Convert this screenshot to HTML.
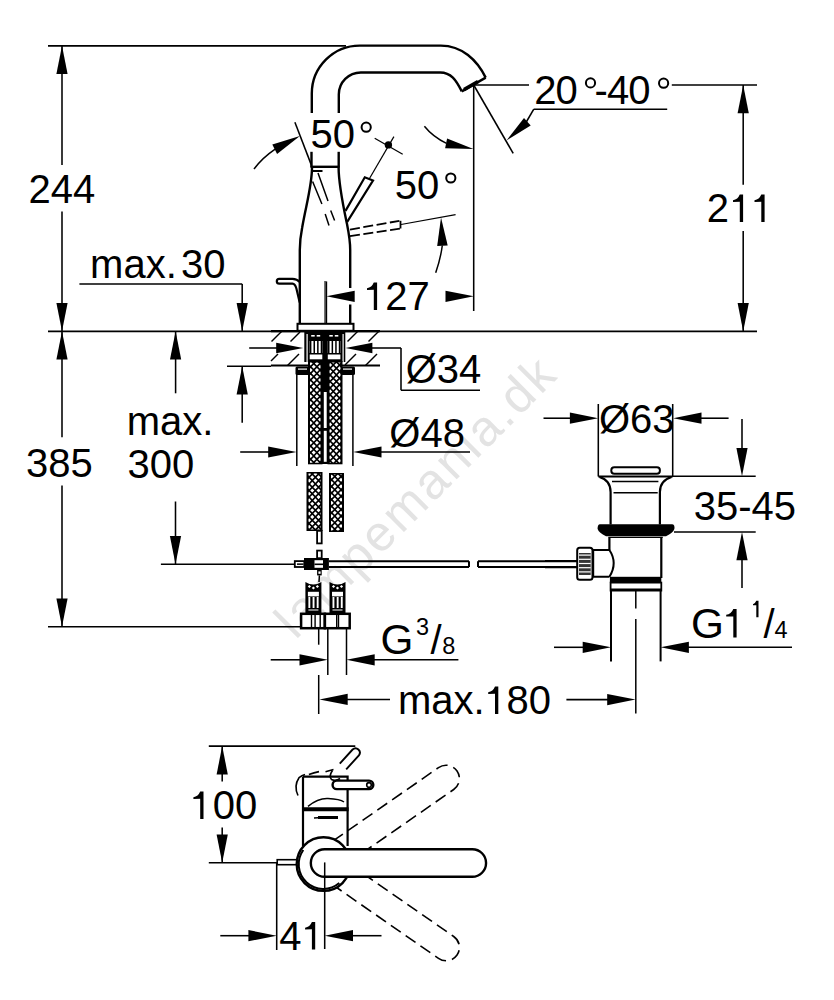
<!DOCTYPE html>
<html><head><meta charset="utf-8"><style>
html,body{margin:0;padding:0;background:#fff;}
svg{display:block;}
text{font-family:"Liberation Sans",sans-serif;fill:#000;stroke:none;}
</style></head><body>
<svg width="834" height="1000" viewBox="0 0 834 1000" stroke="#000" stroke-linecap="butt">
<rect width="834" height="1000" fill="#fff" stroke="none"/>
<text x="0" y="0" font-size="50" letter-spacing="2.7" style="fill:#e3e3e3" stroke="none" transform="translate(295.6,640.4) rotate(-45)">lampemania.dk</text>
<line x1="48.0" y1="45.8" x2="346.0" y2="45.8" stroke-width="1.7" />
<line x1="48.0" y1="331.4" x2="757.0" y2="331.4" stroke-width="1.6" />
<line x1="62.0" y1="45.8" x2="62.0" y2="165.0" stroke-width="1.55" />
<line x1="62.0" y1="211.5" x2="62.0" y2="331.3" stroke-width="1.55" />
<polygon points="62.0,45.8 67.6,74.1 56.4,74.1" fill="#000" stroke="none"/>
<polygon points="62.0,331.3 56.4,303.0 67.6,303.0" fill="#000" stroke="none"/>
<text x="28.6" y="203.0" font-size="40" >244</text>
<text x="90.1" y="278.0" font-size="40" >max.</text>
<text x="181.1" y="278.0" font-size="40" >30</text>
<line x1="79.4" y1="284.0" x2="242.2" y2="284.0" stroke-width="1.55" />
<line x1="242.2" y1="284.0" x2="242.2" y2="331.0" stroke-width="1.55" />
<polygon points="242.2,331.3 236.6,303.0 247.8,303.0" fill="#000" stroke="none"/>
<line x1="242.2" y1="366.2" x2="242.2" y2="422.7" stroke-width="1.55" />
<polygon points="242.2,366.2 247.8,394.5 236.6,394.5" fill="#000" stroke="none"/>
<line x1="473.7" y1="85.0" x2="529.0" y2="85.0" stroke-width="1.55" />
<line x1="671.8" y1="85.0" x2="757.0" y2="85.0" stroke-width="1.55" />
<line x1="743.2" y1="85.0" x2="743.2" y2="184.8" stroke-width="1.55" />
<line x1="743.2" y1="231.0" x2="743.2" y2="331.3" stroke-width="1.55" />
<polygon points="743.2,85.0 748.8,113.3 737.6,113.3" fill="#000" stroke="none"/>
<polygon points="743.2,331.4 737.6,303.1 748.8,303.1" fill="#000" stroke="none"/>
<text x="706.8" y="222.0" font-size="40" >2</text>
<path d="M739.80,194.60 L743.10,194.60 L743.10,222.00 L739.80,222.00 L739.80,201.80 Q737.30,201.80 733.00,202.00 L733.00,200.20 Q737.80,199.60 739.80,194.60 Z" fill="#000" stroke="none"/>
<path d="M761.30,194.60 L764.60,194.60 L764.60,222.00 L761.30,222.00 L761.30,201.80 Q758.80,201.80 754.50,202.00 L754.50,200.20 Q759.30,199.60 761.30,194.60 Z" fill="#000" stroke="none"/>
<text x="534.2" y="104.0" font-size="40" letter-spacing="-1">20</text>
<circle cx="590.5" cy="82.9" r="4.6" stroke-width="2.0" fill="none"/>
<text x="594.6" y="104.0" font-size="40" letter-spacing="-1">-40</text>
<circle cx="663.6" cy="83.2" r="4.6" stroke-width="2.0" fill="none"/>
<line x1="533.8" y1="109.2" x2="667.2" y2="109.2" stroke-width="1.55" />
<line x1="533.8" y1="109.2" x2="526.0" y2="122.5" stroke-width="1.55" />
<polygon points="506.5,140.4 524.0,118.0 530.7,125.4" fill="#000" stroke="none"/>
<line x1="473.7" y1="85.0" x2="513.2" y2="153.4" stroke-width="1.55" />
<line x1="473.7" y1="85.0" x2="473.7" y2="311.0" stroke-width="1.55" />
<path d="M424.4,126.3 Q433,137 446.5,143.4" stroke-width="1.5" fill="none" />
<polygon points="473.5,148.9 445.1,148.2 447.1,138.4" fill="#000" stroke="none"/>
<line x1="326.4" y1="281.4" x2="326.4" y2="323.0" stroke-width="1.55" />
<polygon points="326.4,296.3 354.7,290.7 354.7,301.9" fill="#000" stroke="none"/>
<polygon points="473.8,296.3 445.5,301.9 445.5,290.7" fill="#000" stroke="none"/>
<path d="M373.80,282.60 L377.10,282.60 L377.10,310.00 L373.80,310.00 L373.80,289.80 Q371.30,289.80 367.00,290.00 L367.00,288.20 Q371.80,287.60 373.80,282.60 Z" fill="#000" stroke="none"/>
<text x="385.3" y="310.0" font-size="40" >27</text>
<path d="M311.8,113 L311.8,93.5 A48,48 0 0 1 359.7,45.6 L440.8,45.6 C462,45.6 477,60 485.7,77.6" stroke-width="2.4" fill="none" />
<path d="M338.8,113 L338.8,94.5 A22,22 0 0 1 360.8,72.5 L440.2,72.5 C451,72.5 456,80 461.8,91.4" stroke-width="2.4" fill="none" />
<path d="M461.8,91.4 L485.7,77.6" stroke-width="2.4" fill="none" />
<path d="M464,89.6 L478,81.5" stroke-width="3.6" fill="none" />
<line x1="311.5" y1="151.8" x2="311.5" y2="167.0" stroke-width="2.4" />
<line x1="338.7" y1="151.8" x2="338.7" y2="167.0" stroke-width="2.4" />
<line x1="310.5" y1="166.8" x2="339.5" y2="166.8" stroke-width="2.4" />
<path d="M312,167 C312.2,185 306,205 302.1,228 C300.5,236 299.8,242 299.8,250 L299.8,323.8" stroke-width="2.4" fill="none" />
<path d="M338.6,167 C338.6,185 343,205 347,224 C349,234 350.2,242 350.2,250 L350.2,288 M350.2,304.5 L350.2,323.8" stroke-width="2.4" fill="none" />
<path d="M299.8,282 Q297,278.8 292.5,278.8 L279.2,278.8 A2.4,2.4 0 0 0 279.2,283.6 L292.5,283.6 Q295,283.8 296.4,288.5 L299.7,302.5" stroke-width="2.2" fill="none" />
<text x="310.4" y="148.0" font-size="40" >50</text>
<circle cx="366.2" cy="127.2" r="4.6" stroke-width="2.0" fill="none"/>
<line x1="294.9" y1="122.2" x2="311.5" y2="165.4" stroke-width="1.55" />
<path d="M254,169 Q262,158 275.5,148.8" stroke-width="1.5" fill="none" />
<polygon points="299.9,136.1 277.1,153.9 272.3,144.6" fill="#000" stroke="none"/>
<text x="394.7" y="199.0" font-size="40" >50</text>
<circle cx="450.8" cy="178" r="4.6" stroke-width="2.0" fill="none"/>
<path d="M435.7,272.8 Q440.5,259 442.3,245.5" stroke-width="1.5" fill="none" />
<polygon points="441.0,217.4 447.7,245.4 437.2,245.9" fill="#000" stroke="none"/>
<path d="M345.5,210.9 L364.8,177.3 L373,180.6 L347.2,221.9" stroke-width="2.2" fill="none" />
<line x1="369.2" y1="179.0" x2="393.9" y2="136.6" stroke-width="1.2" />
<line x1="374.7" y1="138.3" x2="402.7" y2="154.2" stroke-width="1.2" />
<circle cx="388.4" cy="144.9" r="3.7" stroke-width="0" fill="#000"/>
<path d="M350,229.6 L399.4,220.8 M350,236.2 L401,228.5" stroke-width="1.8" fill="none" stroke-dasharray="10,3.5"/>
<line x1="400.5" y1="220.8" x2="400.5" y2="228.5" stroke-width="1.8" />
<line x1="401.0" y1="224.5" x2="455.6" y2="214.7" stroke-width="1.2" />
<path d="M312.6,181.5 L321.9,204 M325.2,214 L329,225.5" stroke-width="1.5" fill="none" />
<path d="M318,173 L328,201 M330.7,210.6 L334.6,220.5" stroke-width="1.5" fill="none" />
<line x1="312.6" y1="171.0" x2="322.5" y2="171.0" stroke-width="2" />
<rect x="297.5" y="323.8" width="56.0" height="7.0" fill="#fff" stroke="#000" stroke-width="2" rx="0" />
<line x1="325.0" y1="281.0" x2="325.0" y2="323.8" stroke-width="1.1" />
<line x1="271.0" y1="331.2" x2="380.0" y2="331.2" stroke-width="2.2" />
<line x1="271.0" y1="365.5" x2="380.0" y2="365.5" stroke-width="2.0" />
<line x1="227.0" y1="366.2" x2="271.0" y2="366.2" stroke-width="1.5" />
<line x1="281.8" y1="331.2" x2="271.5" y2="341.5" stroke-width="1.4" />
<line x1="300.0" y1="332.0" x2="290.5" y2="341.5" stroke-width="1.4" />
<line x1="278.0" y1="354.0" x2="271.0" y2="361.0" stroke-width="1.4" />
<line x1="299.0" y1="354.0" x2="287.5" y2="365.5" stroke-width="1.4" />
<line x1="357.8" y1="331.2" x2="347.5" y2="341.5" stroke-width="1.4" />
<line x1="378.8" y1="331.2" x2="368.5" y2="341.5" stroke-width="1.4" />
<line x1="356.0" y1="354.0" x2="345.0" y2="365.0" stroke-width="1.4" />
<line x1="377.0" y1="354.0" x2="365.5" y2="365.5" stroke-width="1.4" />
<rect x="304.3" y="331.0" width="41.0" height="31.0" fill="#000" stroke="none" rx="0" />
<rect x="309.7" y="341.0" width="12.6" height="12.0" fill="#fff" stroke="none" rx="0" />
<rect x="309.9" y="341.0" width="1.5" height="12.0" fill="#000" stroke="none" rx="0" />
<rect x="313.5" y="341.0" width="1.5" height="12.0" fill="#000" stroke="none" rx="0" />
<rect x="317.1" y="341.0" width="1.5" height="12.0" fill="#000" stroke="none" rx="0" />
<rect x="320.7" y="341.0" width="1.5" height="12.0" fill="#000" stroke="none" rx="0" />
<rect x="309.7" y="354.5" width="12.6" height="4.8" fill="#fff" stroke="none" rx="0" />
<rect x="311.2" y="335.0" width="3.5" height="1.6" fill="#fff" stroke="none" rx="0" />
<rect x="316.7" y="335.0" width="3.5" height="1.6" fill="#fff" stroke="none" rx="0" />
<rect x="327.8" y="341.0" width="12.6" height="12.0" fill="#fff" stroke="none" rx="0" />
<rect x="328.0" y="341.0" width="1.5" height="12.0" fill="#000" stroke="none" rx="0" />
<rect x="331.6" y="341.0" width="1.5" height="12.0" fill="#000" stroke="none" rx="0" />
<rect x="335.2" y="341.0" width="1.5" height="12.0" fill="#000" stroke="none" rx="0" />
<rect x="338.8" y="341.0" width="1.5" height="12.0" fill="#000" stroke="none" rx="0" />
<rect x="327.8" y="354.5" width="12.6" height="4.8" fill="#fff" stroke="none" rx="0" />
<rect x="329.3" y="335.0" width="3.5" height="1.6" fill="#fff" stroke="none" rx="0" />
<rect x="334.8" y="335.0" width="3.5" height="1.6" fill="#fff" stroke="none" rx="0" />
<rect x="306.5" y="334.0" width="1.2" height="28.0" fill="#fff" stroke="none" rx="0" />
<rect x="342.5" y="334.0" width="1.2" height="28.0" fill="#fff" stroke="none" rx="0" />
<rect x="295.5" y="366.5" width="15.0" height="8.5" fill="#000" stroke="none" rx="1.5" />
<rect x="340.0" y="366.5" width="15.0" height="8.5" fill="#000" stroke="none" rx="1.5" />
<rect x="298.0" y="368.5" width="9.0" height="1.2" fill="#fff" stroke="none" rx="0" />
<rect x="343.0" y="368.5" width="9.0" height="1.2" fill="#fff" stroke="none" rx="0" />
<line x1="249.2" y1="348.0" x2="278.0" y2="348.0" stroke-width="1.55" />
<polygon points="303.2,348.0 276.2,353.2 276.2,342.8" fill="#000" stroke="none"/>
<polygon points="345.4,348.0 372.4,342.8 372.4,353.2" fill="#000" stroke="none"/>
<line x1="372.0" y1="348.0" x2="401.0" y2="348.0" stroke-width="1.55" />
<line x1="401.0" y1="348.0" x2="401.0" y2="390.3" stroke-width="1.55" />
<line x1="401.0" y1="390.3" x2="480.0" y2="390.3" stroke-width="1.55" />
<text x="405.7" y="383.0" font-size="40" >Ø34</text>
<line x1="296.8" y1="371.0" x2="296.8" y2="466.0" stroke-width="1.5" />
<line x1="352.9" y1="371.0" x2="352.9" y2="466.0" stroke-width="1.5" />
<line x1="240.2" y1="452.0" x2="270.0" y2="452.0" stroke-width="1.55" />
<polygon points="296.5,452.0 268.2,457.6 268.2,446.4" fill="#000" stroke="none"/>
<polygon points="353.2,452.0 381.5,446.4 381.5,457.6" fill="#000" stroke="none"/>
<line x1="380.0" y1="452.0" x2="470.0" y2="452.0" stroke-width="1.55" />
<text x="389.3" y="447.0" font-size="40" >Ø48</text>
<rect x="321.6" y="361.0" width="6.5" height="103.0" fill="#000" stroke="none" rx="0" />
<rect x="323.8" y="392.0" width="2.9" height="36.0" fill="#fff" stroke="none" rx="0" />
<rect x="323.8" y="430.8" width="2.9" height="31.0" fill="#fff" stroke="none" rx="0" />
<rect x="308.0" y="361.0" width="14.5" height="103.3" fill="#000" stroke="none" rx="0" />
<clipPath id="hc1"><rect x="310.0" y="362.5" width="10.5" height="100.3"/></clipPath>
<path clip-path="url(#hc1)" fill="#fff" stroke="none" d="M310.60,354.85l2.05,2.05l-2.05,2.05l-2.05,-2.05zM310.60,361.45l2.05,2.05l-2.05,2.05l-2.05,-2.05zM310.60,368.05l2.05,2.05l-2.05,2.05l-2.05,-2.05zM310.60,374.65l2.05,2.05l-2.05,2.05l-2.05,-2.05zM310.60,381.25l2.05,2.05l-2.05,2.05l-2.05,-2.05zM310.60,387.85l2.05,2.05l-2.05,2.05l-2.05,-2.05zM310.60,394.45l2.05,2.05l-2.05,2.05l-2.05,-2.05zM310.60,401.05l2.05,2.05l-2.05,2.05l-2.05,-2.05zM310.60,407.65l2.05,2.05l-2.05,2.05l-2.05,-2.05zM310.60,414.25l2.05,2.05l-2.05,2.05l-2.05,-2.05zM310.60,420.85l2.05,2.05l-2.05,2.05l-2.05,-2.05zM310.60,427.45l2.05,2.05l-2.05,2.05l-2.05,-2.05zM310.60,434.05l2.05,2.05l-2.05,2.05l-2.05,-2.05zM310.60,440.65l2.05,2.05l-2.05,2.05l-2.05,-2.05zM310.60,447.25l2.05,2.05l-2.05,2.05l-2.05,-2.05zM310.60,453.85l2.05,2.05l-2.05,2.05l-2.05,-2.05zM310.60,460.45l2.05,2.05l-2.05,2.05l-2.05,-2.05zM313.75,358.15l2.05,2.05l-2.05,2.05l-2.05,-2.05zM313.75,364.75l2.05,2.05l-2.05,2.05l-2.05,-2.05zM313.75,371.35l2.05,2.05l-2.05,2.05l-2.05,-2.05zM313.75,377.95l2.05,2.05l-2.05,2.05l-2.05,-2.05zM313.75,384.55l2.05,2.05l-2.05,2.05l-2.05,-2.05zM313.75,391.15l2.05,2.05l-2.05,2.05l-2.05,-2.05zM313.75,397.75l2.05,2.05l-2.05,2.05l-2.05,-2.05zM313.75,404.35l2.05,2.05l-2.05,2.05l-2.05,-2.05zM313.75,410.95l2.05,2.05l-2.05,2.05l-2.05,-2.05zM313.75,417.55l2.05,2.05l-2.05,2.05l-2.05,-2.05zM313.75,424.15l2.05,2.05l-2.05,2.05l-2.05,-2.05zM313.75,430.75l2.05,2.05l-2.05,2.05l-2.05,-2.05zM313.75,437.35l2.05,2.05l-2.05,2.05l-2.05,-2.05zM313.75,443.95l2.05,2.05l-2.05,2.05l-2.05,-2.05zM313.75,450.55l2.05,2.05l-2.05,2.05l-2.05,-2.05zM313.75,457.15l2.05,2.05l-2.05,2.05l-2.05,-2.05zM316.90,354.85l2.05,2.05l-2.05,2.05l-2.05,-2.05zM316.90,361.45l2.05,2.05l-2.05,2.05l-2.05,-2.05zM316.90,368.05l2.05,2.05l-2.05,2.05l-2.05,-2.05zM316.90,374.65l2.05,2.05l-2.05,2.05l-2.05,-2.05zM316.90,381.25l2.05,2.05l-2.05,2.05l-2.05,-2.05zM316.90,387.85l2.05,2.05l-2.05,2.05l-2.05,-2.05zM316.90,394.45l2.05,2.05l-2.05,2.05l-2.05,-2.05zM316.90,401.05l2.05,2.05l-2.05,2.05l-2.05,-2.05zM316.90,407.65l2.05,2.05l-2.05,2.05l-2.05,-2.05zM316.90,414.25l2.05,2.05l-2.05,2.05l-2.05,-2.05zM316.90,420.85l2.05,2.05l-2.05,2.05l-2.05,-2.05zM316.90,427.45l2.05,2.05l-2.05,2.05l-2.05,-2.05zM316.90,434.05l2.05,2.05l-2.05,2.05l-2.05,-2.05zM316.90,440.65l2.05,2.05l-2.05,2.05l-2.05,-2.05zM316.90,447.25l2.05,2.05l-2.05,2.05l-2.05,-2.05zM316.90,453.85l2.05,2.05l-2.05,2.05l-2.05,-2.05zM316.90,460.45l2.05,2.05l-2.05,2.05l-2.05,-2.05zM320.05,358.15l2.05,2.05l-2.05,2.05l-2.05,-2.05zM320.05,364.75l2.05,2.05l-2.05,2.05l-2.05,-2.05zM320.05,371.35l2.05,2.05l-2.05,2.05l-2.05,-2.05zM320.05,377.95l2.05,2.05l-2.05,2.05l-2.05,-2.05zM320.05,384.55l2.05,2.05l-2.05,2.05l-2.05,-2.05zM320.05,391.15l2.05,2.05l-2.05,2.05l-2.05,-2.05zM320.05,397.75l2.05,2.05l-2.05,2.05l-2.05,-2.05zM320.05,404.35l2.05,2.05l-2.05,2.05l-2.05,-2.05zM320.05,410.95l2.05,2.05l-2.05,2.05l-2.05,-2.05zM320.05,417.55l2.05,2.05l-2.05,2.05l-2.05,-2.05zM320.05,424.15l2.05,2.05l-2.05,2.05l-2.05,-2.05zM320.05,430.75l2.05,2.05l-2.05,2.05l-2.05,-2.05zM320.05,437.35l2.05,2.05l-2.05,2.05l-2.05,-2.05zM320.05,443.95l2.05,2.05l-2.05,2.05l-2.05,-2.05zM320.05,450.55l2.05,2.05l-2.05,2.05l-2.05,-2.05zM320.05,457.15l2.05,2.05l-2.05,2.05l-2.05,-2.05z"/>
<rect x="327.5" y="361.0" width="15.0" height="103.3" fill="#000" stroke="none" rx="0" />
<clipPath id="hc2"><rect x="329.5" y="362.5" width="11.0" height="100.3"/></clipPath>
<path clip-path="url(#hc2)" fill="#fff" stroke="none" d="M330.10,356.35l2.05,2.05l-2.05,2.05l-2.05,-2.05zM330.10,362.95l2.05,2.05l-2.05,2.05l-2.05,-2.05zM330.10,369.55l2.05,2.05l-2.05,2.05l-2.05,-2.05zM330.10,376.15l2.05,2.05l-2.05,2.05l-2.05,-2.05zM330.10,382.75l2.05,2.05l-2.05,2.05l-2.05,-2.05zM330.10,389.35l2.05,2.05l-2.05,2.05l-2.05,-2.05zM330.10,395.95l2.05,2.05l-2.05,2.05l-2.05,-2.05zM330.10,402.55l2.05,2.05l-2.05,2.05l-2.05,-2.05zM330.10,409.15l2.05,2.05l-2.05,2.05l-2.05,-2.05zM330.10,415.75l2.05,2.05l-2.05,2.05l-2.05,-2.05zM330.10,422.35l2.05,2.05l-2.05,2.05l-2.05,-2.05zM330.10,428.95l2.05,2.05l-2.05,2.05l-2.05,-2.05zM330.10,435.55l2.05,2.05l-2.05,2.05l-2.05,-2.05zM330.10,442.15l2.05,2.05l-2.05,2.05l-2.05,-2.05zM330.10,448.75l2.05,2.05l-2.05,2.05l-2.05,-2.05zM330.10,455.35l2.05,2.05l-2.05,2.05l-2.05,-2.05zM330.10,461.95l2.05,2.05l-2.05,2.05l-2.05,-2.05zM333.25,359.65l2.05,2.05l-2.05,2.05l-2.05,-2.05zM333.25,366.25l2.05,2.05l-2.05,2.05l-2.05,-2.05zM333.25,372.85l2.05,2.05l-2.05,2.05l-2.05,-2.05zM333.25,379.45l2.05,2.05l-2.05,2.05l-2.05,-2.05zM333.25,386.05l2.05,2.05l-2.05,2.05l-2.05,-2.05zM333.25,392.65l2.05,2.05l-2.05,2.05l-2.05,-2.05zM333.25,399.25l2.05,2.05l-2.05,2.05l-2.05,-2.05zM333.25,405.85l2.05,2.05l-2.05,2.05l-2.05,-2.05zM333.25,412.45l2.05,2.05l-2.05,2.05l-2.05,-2.05zM333.25,419.05l2.05,2.05l-2.05,2.05l-2.05,-2.05zM333.25,425.65l2.05,2.05l-2.05,2.05l-2.05,-2.05zM333.25,432.25l2.05,2.05l-2.05,2.05l-2.05,-2.05zM333.25,438.85l2.05,2.05l-2.05,2.05l-2.05,-2.05zM333.25,445.45l2.05,2.05l-2.05,2.05l-2.05,-2.05zM333.25,452.05l2.05,2.05l-2.05,2.05l-2.05,-2.05zM333.25,458.65l2.05,2.05l-2.05,2.05l-2.05,-2.05zM336.40,356.35l2.05,2.05l-2.05,2.05l-2.05,-2.05zM336.40,362.95l2.05,2.05l-2.05,2.05l-2.05,-2.05zM336.40,369.55l2.05,2.05l-2.05,2.05l-2.05,-2.05zM336.40,376.15l2.05,2.05l-2.05,2.05l-2.05,-2.05zM336.40,382.75l2.05,2.05l-2.05,2.05l-2.05,-2.05zM336.40,389.35l2.05,2.05l-2.05,2.05l-2.05,-2.05zM336.40,395.95l2.05,2.05l-2.05,2.05l-2.05,-2.05zM336.40,402.55l2.05,2.05l-2.05,2.05l-2.05,-2.05zM336.40,409.15l2.05,2.05l-2.05,2.05l-2.05,-2.05zM336.40,415.75l2.05,2.05l-2.05,2.05l-2.05,-2.05zM336.40,422.35l2.05,2.05l-2.05,2.05l-2.05,-2.05zM336.40,428.95l2.05,2.05l-2.05,2.05l-2.05,-2.05zM336.40,435.55l2.05,2.05l-2.05,2.05l-2.05,-2.05zM336.40,442.15l2.05,2.05l-2.05,2.05l-2.05,-2.05zM336.40,448.75l2.05,2.05l-2.05,2.05l-2.05,-2.05zM336.40,455.35l2.05,2.05l-2.05,2.05l-2.05,-2.05zM336.40,461.95l2.05,2.05l-2.05,2.05l-2.05,-2.05zM339.55,359.65l2.05,2.05l-2.05,2.05l-2.05,-2.05zM339.55,366.25l2.05,2.05l-2.05,2.05l-2.05,-2.05zM339.55,372.85l2.05,2.05l-2.05,2.05l-2.05,-2.05zM339.55,379.45l2.05,2.05l-2.05,2.05l-2.05,-2.05zM339.55,386.05l2.05,2.05l-2.05,2.05l-2.05,-2.05zM339.55,392.65l2.05,2.05l-2.05,2.05l-2.05,-2.05zM339.55,399.25l2.05,2.05l-2.05,2.05l-2.05,-2.05zM339.55,405.85l2.05,2.05l-2.05,2.05l-2.05,-2.05zM339.55,412.45l2.05,2.05l-2.05,2.05l-2.05,-2.05zM339.55,419.05l2.05,2.05l-2.05,2.05l-2.05,-2.05zM339.55,425.65l2.05,2.05l-2.05,2.05l-2.05,-2.05zM339.55,432.25l2.05,2.05l-2.05,2.05l-2.05,-2.05zM339.55,438.85l2.05,2.05l-2.05,2.05l-2.05,-2.05zM339.55,445.45l2.05,2.05l-2.05,2.05l-2.05,-2.05zM339.55,452.05l2.05,2.05l-2.05,2.05l-2.05,-2.05zM339.55,458.65l2.05,2.05l-2.05,2.05l-2.05,-2.05z"/>
<rect x="306.5" y="472.0" width="16.0" height="59.0" fill="#000" stroke="none" rx="0" />
<clipPath id="hc3"><rect x="308.5" y="473.5" width="12.0" height="56.0"/></clipPath>
<path clip-path="url(#hc3)" fill="#fff" stroke="none" d="M309.10,465.35l2.05,2.05l-2.05,2.05l-2.05,-2.05zM309.10,471.95l2.05,2.05l-2.05,2.05l-2.05,-2.05zM309.10,478.55l2.05,2.05l-2.05,2.05l-2.05,-2.05zM309.10,485.15l2.05,2.05l-2.05,2.05l-2.05,-2.05zM309.10,491.75l2.05,2.05l-2.05,2.05l-2.05,-2.05zM309.10,498.35l2.05,2.05l-2.05,2.05l-2.05,-2.05zM309.10,504.95l2.05,2.05l-2.05,2.05l-2.05,-2.05zM309.10,511.55l2.05,2.05l-2.05,2.05l-2.05,-2.05zM309.10,518.15l2.05,2.05l-2.05,2.05l-2.05,-2.05zM309.10,524.75l2.05,2.05l-2.05,2.05l-2.05,-2.05zM312.25,468.65l2.05,2.05l-2.05,2.05l-2.05,-2.05zM312.25,475.25l2.05,2.05l-2.05,2.05l-2.05,-2.05zM312.25,481.85l2.05,2.05l-2.05,2.05l-2.05,-2.05zM312.25,488.45l2.05,2.05l-2.05,2.05l-2.05,-2.05zM312.25,495.05l2.05,2.05l-2.05,2.05l-2.05,-2.05zM312.25,501.65l2.05,2.05l-2.05,2.05l-2.05,-2.05zM312.25,508.25l2.05,2.05l-2.05,2.05l-2.05,-2.05zM312.25,514.85l2.05,2.05l-2.05,2.05l-2.05,-2.05zM312.25,521.45l2.05,2.05l-2.05,2.05l-2.05,-2.05zM312.25,528.05l2.05,2.05l-2.05,2.05l-2.05,-2.05zM315.40,465.35l2.05,2.05l-2.05,2.05l-2.05,-2.05zM315.40,471.95l2.05,2.05l-2.05,2.05l-2.05,-2.05zM315.40,478.55l2.05,2.05l-2.05,2.05l-2.05,-2.05zM315.40,485.15l2.05,2.05l-2.05,2.05l-2.05,-2.05zM315.40,491.75l2.05,2.05l-2.05,2.05l-2.05,-2.05zM315.40,498.35l2.05,2.05l-2.05,2.05l-2.05,-2.05zM315.40,504.95l2.05,2.05l-2.05,2.05l-2.05,-2.05zM315.40,511.55l2.05,2.05l-2.05,2.05l-2.05,-2.05zM315.40,518.15l2.05,2.05l-2.05,2.05l-2.05,-2.05zM315.40,524.75l2.05,2.05l-2.05,2.05l-2.05,-2.05zM318.55,468.65l2.05,2.05l-2.05,2.05l-2.05,-2.05zM318.55,475.25l2.05,2.05l-2.05,2.05l-2.05,-2.05zM318.55,481.85l2.05,2.05l-2.05,2.05l-2.05,-2.05zM318.55,488.45l2.05,2.05l-2.05,2.05l-2.05,-2.05zM318.55,495.05l2.05,2.05l-2.05,2.05l-2.05,-2.05zM318.55,501.65l2.05,2.05l-2.05,2.05l-2.05,-2.05zM318.55,508.25l2.05,2.05l-2.05,2.05l-2.05,-2.05zM318.55,514.85l2.05,2.05l-2.05,2.05l-2.05,-2.05zM318.55,521.45l2.05,2.05l-2.05,2.05l-2.05,-2.05zM318.55,528.05l2.05,2.05l-2.05,2.05l-2.05,-2.05zM321.70,465.35l2.05,2.05l-2.05,2.05l-2.05,-2.05zM321.70,471.95l2.05,2.05l-2.05,2.05l-2.05,-2.05zM321.70,478.55l2.05,2.05l-2.05,2.05l-2.05,-2.05zM321.70,485.15l2.05,2.05l-2.05,2.05l-2.05,-2.05zM321.70,491.75l2.05,2.05l-2.05,2.05l-2.05,-2.05zM321.70,498.35l2.05,2.05l-2.05,2.05l-2.05,-2.05zM321.70,504.95l2.05,2.05l-2.05,2.05l-2.05,-2.05zM321.70,511.55l2.05,2.05l-2.05,2.05l-2.05,-2.05zM321.70,518.15l2.05,2.05l-2.05,2.05l-2.05,-2.05zM321.70,524.75l2.05,2.05l-2.05,2.05l-2.05,-2.05z"/>
<rect x="329.0" y="473.0" width="15.0" height="59.0" fill="#000" stroke="none" rx="0" />
<clipPath id="hc4"><rect x="331.0" y="474.5" width="11.0" height="56.0"/></clipPath>
<path clip-path="url(#hc4)" fill="#fff" stroke="none" d="M331.60,467.85l2.05,2.05l-2.05,2.05l-2.05,-2.05zM331.60,474.45l2.05,2.05l-2.05,2.05l-2.05,-2.05zM331.60,481.05l2.05,2.05l-2.05,2.05l-2.05,-2.05zM331.60,487.65l2.05,2.05l-2.05,2.05l-2.05,-2.05zM331.60,494.25l2.05,2.05l-2.05,2.05l-2.05,-2.05zM331.60,500.85l2.05,2.05l-2.05,2.05l-2.05,-2.05zM331.60,507.45l2.05,2.05l-2.05,2.05l-2.05,-2.05zM331.60,514.05l2.05,2.05l-2.05,2.05l-2.05,-2.05zM331.60,520.65l2.05,2.05l-2.05,2.05l-2.05,-2.05zM331.60,527.25l2.05,2.05l-2.05,2.05l-2.05,-2.05zM334.75,471.15l2.05,2.05l-2.05,2.05l-2.05,-2.05zM334.75,477.75l2.05,2.05l-2.05,2.05l-2.05,-2.05zM334.75,484.35l2.05,2.05l-2.05,2.05l-2.05,-2.05zM334.75,490.95l2.05,2.05l-2.05,2.05l-2.05,-2.05zM334.75,497.55l2.05,2.05l-2.05,2.05l-2.05,-2.05zM334.75,504.15l2.05,2.05l-2.05,2.05l-2.05,-2.05zM334.75,510.75l2.05,2.05l-2.05,2.05l-2.05,-2.05zM334.75,517.35l2.05,2.05l-2.05,2.05l-2.05,-2.05zM334.75,523.95l2.05,2.05l-2.05,2.05l-2.05,-2.05zM337.90,467.85l2.05,2.05l-2.05,2.05l-2.05,-2.05zM337.90,474.45l2.05,2.05l-2.05,2.05l-2.05,-2.05zM337.90,481.05l2.05,2.05l-2.05,2.05l-2.05,-2.05zM337.90,487.65l2.05,2.05l-2.05,2.05l-2.05,-2.05zM337.90,494.25l2.05,2.05l-2.05,2.05l-2.05,-2.05zM337.90,500.85l2.05,2.05l-2.05,2.05l-2.05,-2.05zM337.90,507.45l2.05,2.05l-2.05,2.05l-2.05,-2.05zM337.90,514.05l2.05,2.05l-2.05,2.05l-2.05,-2.05zM337.90,520.65l2.05,2.05l-2.05,2.05l-2.05,-2.05zM337.90,527.25l2.05,2.05l-2.05,2.05l-2.05,-2.05zM341.05,471.15l2.05,2.05l-2.05,2.05l-2.05,-2.05zM341.05,477.75l2.05,2.05l-2.05,2.05l-2.05,-2.05zM341.05,484.35l2.05,2.05l-2.05,2.05l-2.05,-2.05zM341.05,490.95l2.05,2.05l-2.05,2.05l-2.05,-2.05zM341.05,497.55l2.05,2.05l-2.05,2.05l-2.05,-2.05zM341.05,504.15l2.05,2.05l-2.05,2.05l-2.05,-2.05zM341.05,510.75l2.05,2.05l-2.05,2.05l-2.05,-2.05zM341.05,517.35l2.05,2.05l-2.05,2.05l-2.05,-2.05zM341.05,523.95l2.05,2.05l-2.05,2.05l-2.05,-2.05z"/>
<rect x="317.1" y="530.8" width="4.6" height="12.6" fill="#fff" stroke="#000" stroke-width="1.8" rx="0" />
<rect x="317.1" y="550.6" width="4.6" height="7.6" fill="#fff" stroke="#000" stroke-width="1.8" rx="0" />
<rect x="294.8" y="561.1" width="9.5" height="5.9" fill="#fff" stroke="#000" stroke-width="1.8" rx="0" />
<rect x="297.0" y="563.4" width="6.5" height="1.5" fill="#000" stroke="none" rx="0" />
<rect x="304.0" y="558.0" width="24.9" height="12.0" fill="#000" stroke="none" rx="0" />
<rect x="314.5" y="560.2" width="8.5" height="7.6" fill="#fff" stroke="none" rx="0" />
<line x1="314.5" y1="564.3" x2="323.0" y2="564.3" stroke-width="1.6" />
<rect x="317.1" y="570.0" width="4.6" height="5.4" fill="#000" stroke="none" rx="0" />
<rect x="318.4" y="571.4" width="2.2" height="2.4" fill="#fff" stroke="none" rx="0" />
<line x1="319.4" y1="575.4" x2="319.0" y2="582.0" stroke-width="1.5" />
<path d="M328.9,561.2 L469,561.2 M328.9,567 L469,567 M469,561.2 L469,567" stroke-width="2" fill="none" />
<path d="M478,561.2 L578,561.2 M478,567 L578,567 M478,561.2 L478,567" stroke-width="2" fill="none" />
<line x1="175.6" y1="331.3" x2="175.6" y2="393.3" stroke-width="1.55" />
<polygon points="175.6,331.3 181.2,359.6 170.0,359.6" fill="#000" stroke="none"/>
<line x1="175.5" y1="501.5" x2="175.5" y2="564.2" stroke-width="1.55" />
<polygon points="175.5,564.2 169.9,535.9 181.1,535.9" fill="#000" stroke="none"/>
<line x1="160.9" y1="564.2" x2="294.8" y2="564.2" stroke-width="1.55" />
<text x="126.8" y="435.0" font-size="40" >max.</text>
<text x="127.4" y="478.0" font-size="40" >300</text>
<line x1="62.0" y1="331.3" x2="62.0" y2="437.2" stroke-width="1.55" />
<line x1="62.0" y1="485.6" x2="62.0" y2="626.8" stroke-width="1.55" />
<polygon points="62.0,331.3 67.6,359.6 56.4,359.6" fill="#000" stroke="none"/>
<polygon points="62.0,626.8 56.4,598.5 67.6,598.5" fill="#000" stroke="none"/>
<text x="26.1" y="477.0" font-size="40" >385</text>
<line x1="48.0" y1="626.8" x2="301.0" y2="626.8" stroke-width="1.6" />
<path d="M305.4,582 Q313.4,587 321.4,582 L321.4,613.5 L305.4,613.5 Z" stroke-width="0" fill="#000" />
<path d="M309.4,584.9l1.6,1.6l-1.6,1.6l-1.6,-1.6z" stroke-width="0" fill="#fff" />
<path d="M313.4,586.4l1.6,1.6l-1.6,1.6l-1.6,-1.6z" stroke-width="0" fill="#fff" />
<path d="M317.4,584.9l1.6,1.6l-1.6,1.6l-1.6,-1.6z" stroke-width="0" fill="#fff" />
<rect x="307.9" y="591.8" width="11.0" height="4.6" fill="#fff" stroke="none" rx="0" />
<rect x="308.4" y="597.0" width="1.9" height="11.0" fill="#fff" stroke="none" rx="0" />
<rect x="312.6" y="597.0" width="1.9" height="11.0" fill="#fff" stroke="none" rx="0" />
<rect x="316.7" y="597.0" width="1.9" height="11.0" fill="#fff" stroke="none" rx="0" />
<rect x="308.4" y="609.5" width="10.0" height="1.0" fill="#fff" stroke="none" rx="0" />
<rect x="301.1" y="613.8" width="23.8" height="14.4" fill="#fff" stroke="#000" stroke-width="2.5" rx="0" />
<line x1="311.5" y1="615.0" x2="311.5" y2="627.0" stroke-width="1.4" />
<line x1="315.1" y1="615.0" x2="315.1" y2="627.0" stroke-width="1.4" />
<line x1="320.2" y1="615.0" x2="320.2" y2="627.0" stroke-width="1.4" />
<path d="M329.5,582 Q337.5,587 345.5,582 L345.5,613.5 L329.5,613.5 Z" stroke-width="0" fill="#000" />
<path d="M333.5,584.9l1.6,1.6l-1.6,1.6l-1.6,-1.6z" stroke-width="0" fill="#fff" />
<path d="M337.5,586.4l1.6,1.6l-1.6,1.6l-1.6,-1.6z" stroke-width="0" fill="#fff" />
<path d="M341.5,584.9l1.6,1.6l-1.6,1.6l-1.6,-1.6z" stroke-width="0" fill="#fff" />
<rect x="332.0" y="591.8" width="11.0" height="4.6" fill="#fff" stroke="none" rx="0" />
<rect x="332.5" y="597.0" width="1.9" height="11.0" fill="#fff" stroke="none" rx="0" />
<rect x="336.7" y="597.0" width="1.9" height="11.0" fill="#fff" stroke="none" rx="0" />
<rect x="340.8" y="597.0" width="1.9" height="11.0" fill="#fff" stroke="none" rx="0" />
<rect x="332.5" y="609.5" width="10.0" height="1.0" fill="#fff" stroke="none" rx="0" />
<rect x="324.9" y="613.8" width="24.8" height="14.4" fill="#fff" stroke="#000" stroke-width="2.5" rx="0" />
<line x1="336.7" y1="615.0" x2="336.7" y2="627.0" stroke-width="1.4" />
<line x1="338.5" y1="615.0" x2="338.5" y2="627.0" stroke-width="1.4" />
<rect x="323.8" y="613.0" width="2.2" height="15.5" fill="#000" stroke="none" rx="0" />
<line x1="318.7" y1="628.5" x2="318.7" y2="644.7" stroke-width="1.5" />
<line x1="318.7" y1="675.0" x2="318.7" y2="714.0" stroke-width="1.5" />
<line x1="327.8" y1="628.5" x2="327.8" y2="675.0" stroke-width="1.5" />
<line x1="346.5" y1="628.5" x2="346.5" y2="675.0" stroke-width="1.5" />
<line x1="270.7" y1="659.8" x2="300.0" y2="659.8" stroke-width="1.55" />
<polygon points="327.8,659.8 299.5,665.4 299.5,654.2" fill="#000" stroke="none"/>
<polygon points="346.4,659.8 374.7,654.2 374.7,665.4" fill="#000" stroke="none"/>
<line x1="374.0" y1="659.8" x2="458.4" y2="659.8" stroke-width="1.55" />
<text x="380.5" y="654.0" font-size="42.3" >G</text>
<text x="415.9" y="635.0" font-size="23.5" >3</text>
<text x="430.6" y="654.0" font-size="40" >/</text>
<text x="442.2" y="654.0" font-size="23.5" >8</text>
<polygon points="319.4,699.4 347.7,693.8 347.7,705.0" fill="#000" stroke="none"/>
<line x1="346.0" y1="699.4" x2="390.0" y2="699.4" stroke-width="1.55" />
<text x="398.0" y="714.0" font-size="40" >max.</text>
<path d="M495.00,686.60 L498.30,686.60 L498.30,714.00 L495.00,714.00 L495.00,693.80 Q492.50,693.80 488.20,694.00 L488.20,692.20 Q493.00,691.60 495.00,686.60 Z" fill="#000" stroke="none"/>
<text x="506.5" y="714.0" font-size="40" >80</text>
<line x1="566.4" y1="699.6" x2="608.0" y2="699.6" stroke-width="1.55" />
<polygon points="635.5,699.6 607.2,705.2 607.2,694.0" fill="#000" stroke="none"/>
<line x1="635.8" y1="590.6" x2="635.8" y2="608.5" stroke-width="1.5" />
<line x1="635.8" y1="619.0" x2="635.8" y2="713.5" stroke-width="1.5" />
<line x1="543.5" y1="418.2" x2="570.0" y2="418.2" stroke-width="1.55" />
<polygon points="598.2,418.2 569.9,423.8 569.9,412.6" fill="#000" stroke="none"/>
<polygon points="673.2,418.2 701.5,412.6 701.5,423.8" fill="#000" stroke="none"/>
<line x1="700.0" y1="418.2" x2="728.6" y2="418.2" stroke-width="1.55" />
<line x1="598.3" y1="404.0" x2="598.3" y2="476.5" stroke-width="1.55" />
<line x1="672.7" y1="404.0" x2="672.7" y2="476.5" stroke-width="1.55" />
<text x="599.0" y="433.0" font-size="40" >Ø63</text>
<line x1="742.0" y1="419.0" x2="742.0" y2="448.0" stroke-width="1.55" />
<polygon points="742.0,476.2 736.4,447.9 747.6,447.9" fill="#000" stroke="none"/>
<line x1="672.0" y1="476.2" x2="755.7" y2="476.2" stroke-width="1.55" />
<line x1="674.0" y1="532.0" x2="755.7" y2="532.0" stroke-width="1.55" />
<polygon points="742.0,532.0 747.6,560.3 736.4,560.3" fill="#000" stroke="none"/>
<line x1="742.0" y1="560.0" x2="742.0" y2="588.0" stroke-width="1.55" />
<text x="693.8" y="520.0" font-size="40" >35-45</text>
<rect x="611.3" y="467.3" width="48.6" height="6.5" fill="#fff" stroke="#000" stroke-width="2" rx="3" />
<line x1="598.3" y1="476.5" x2="672.7" y2="476.5" stroke-width="2.2" />
<path d="M599.5,477 C606,479 610.6,483 610.6,492 L610.6,524.6 M671.5,477 C665,479 659.9,483 659.9,492 L659.9,524.6" stroke-width="2.2" fill="none" />
<line x1="612.0" y1="481.5" x2="658.4" y2="481.5" stroke-width="1.5" />
<line x1="613.5" y1="492.7" x2="657.7" y2="492.7" stroke-width="1.5" />
<path d="M600,524.3 L672,524.3 Q675,524.3 674.4,529 Q673,533 666,536.2 L606,536.2 Q599,533 597.6,529 Q597.5,524.3 600,524.3 Z" stroke-width="0" fill="#000" />
<line x1="608.4" y1="537.4" x2="662.8" y2="537.4" stroke-width="1.2" />
<path d="M609.4,537.4 L609.4,550 M661.3,537.4 L661.3,578" stroke-width="2.2" fill="none" />
<path d="M609.4,550 L593.2,550 L593.2,576.8 L609.4,576.8 M609.4,550 Q618,563 609.4,576.8" stroke-width="2" fill="none" />
<rect x="609.9" y="576.8" width="51.4" height="5.8" fill="#000" stroke="none" rx="0" />
<rect x="610.6" y="582.6" width="50.7" height="8.0" fill="#fff" stroke="#000" stroke-width="1.8" rx="0" />
<line x1="610.6" y1="589.6" x2="661.3" y2="589.6" stroke-width="2.4" />
<line x1="611.0" y1="590.6" x2="611.0" y2="661.4" stroke-width="2" />
<line x1="660.6" y1="590.6" x2="660.6" y2="661.4" stroke-width="2" />
<rect x="577.2" y="547.8" width="15.3" height="31.9" fill="#fff" stroke="#000" stroke-width="2" rx="2.5" />
<rect x="579.0" y="553.0" width="11.7" height="22.0" fill="#333" stroke="none" rx="0" />
<rect x="579.0" y="554.5" width="11.7" height="1.2" fill="#fff" stroke="none" rx="0" />
<rect x="579.0" y="558.7" width="11.7" height="1.2" fill="#fff" stroke="none" rx="0" />
<rect x="579.0" y="562.9" width="11.7" height="1.2" fill="#fff" stroke="none" rx="0" />
<rect x="579.0" y="567.1" width="11.7" height="1.2" fill="#fff" stroke="none" rx="0" />
<rect x="579.0" y="571.3" width="11.7" height="1.2" fill="#fff" stroke="none" rx="0" />
<path d="M545,560.8 L577.2,560.8 M545,567.4 L577.2,567.4" stroke-width="1.6" fill="none" />
<line x1="554.0" y1="647.3" x2="585.0" y2="647.3" stroke-width="1.55" />
<polygon points="611.0,647.3 582.7,652.9 582.7,641.7" fill="#000" stroke="none"/>
<polygon points="660.6,647.3 688.9,641.7 688.9,652.9" fill="#000" stroke="none"/>
<line x1="688.0" y1="647.3" x2="792.0" y2="647.3" stroke-width="1.55" />
<text x="691.1" y="638.0" font-size="42.3" >G</text>
<path d="M733.30,608.90 L736.60,608.90 L736.60,637.50 L733.30,637.50 L733.30,616.42 Q730.69,616.42 726.20,616.62 L726.20,614.75 Q731.21,614.12 733.30,608.90 Z" fill="#000" stroke="none"/>
<path d="M756.30,600.80 L758.50,600.80 L758.50,617.30 L756.30,617.30 L756.30,605.14 Q754.79,605.14 752.99,605.26 L752.99,604.17 Q755.10,603.81 756.30,600.80 Z" fill="#000" stroke="none"/>
<text x="763.5" y="638.0" font-size="40" >/</text>
<text x="774.5" y="638.0" font-size="23.5" >4</text>
<line x1="208.8" y1="746.1" x2="355.3" y2="746.1" stroke-width="1.55" />
<line x1="222.2" y1="746.1" x2="222.2" y2="781.4" stroke-width="1.55" />
<line x1="222.2" y1="827.4" x2="222.2" y2="862.7" stroke-width="1.55" />
<polygon points="222.2,746.1 227.8,774.4 216.6,774.4" fill="#000" stroke="none"/>
<polygon points="222.2,862.7 216.6,834.4 227.8,834.4" fill="#000" stroke="none"/>
<path d="M200.20,791.60 L203.50,791.60 L203.50,819.00 L200.20,819.00 L200.20,798.80 Q197.70,798.80 193.40,799.00 L193.40,797.20 Q198.20,796.60 200.20,791.60 Z" fill="#000" stroke="none"/>
<text x="212.7" y="819.0" font-size="40" >00</text>
<line x1="208.8" y1="862.7" x2="297.0" y2="862.7" stroke-width="1.55" />
<line x1="276.7" y1="862.0" x2="276.7" y2="950.0" stroke-width="1.55" />
<line x1="324.7" y1="862.4" x2="324.7" y2="949.0" stroke-width="1.55" />
<line x1="220.3" y1="935.7" x2="250.0" y2="935.7" stroke-width="1.55" />
<polygon points="276.7,935.7 248.4,941.3 248.4,930.1" fill="#000" stroke="none"/>
<polygon points="324.7,935.7 353.0,930.1 353.0,941.3" fill="#000" stroke="none"/>
<line x1="352.0" y1="935.7" x2="381.5" y2="935.7" stroke-width="1.55" />
<text x="279.3" y="949.5" font-size="40" >4</text>
<path d="M311.90,922.10 L315.20,922.10 L315.20,949.50 L311.90,949.50 L311.90,929.30 Q309.40,929.30 305.10,929.50 L305.10,927.70 Q309.90,927.10 311.90,922.10 Z" fill="#000" stroke="none"/>
<rect x="277.2" y="859.7" width="20.0" height="5.0" fill="#fff" stroke="#000" stroke-width="1.6" rx="0" />
<path d="M332.2,873.9 L453.7,789.5 A13.3,13.3 0 0 0 438.5,767.6 L317.0,852.1" stroke-width="1.6" fill="none" stroke-dasharray="12,6"/>
<path d="M317.0,873.9 L438.5,958.4 A13.3,13.3 0 0 0 453.7,936.5 L332.2,852.1" stroke-width="1.6" fill="none" stroke-dasharray="12,6"/>
<path d="M346.2,769.4 L358.9,755.3 A4.3,4.3 0 0 0 352.6,749.5 L339.8,763.6" stroke-width="1.9" fill="none" stroke-dasharray="none"/>
<path d="M303,776.7 L347.6,776.7 L347.6,846 M303,776.7 L303,846" stroke-width="2.2" fill="none" />
<line x1="302.0" y1="809.3" x2="348.6" y2="809.3" stroke-width="4" />
<path d="M308,806.4 Q318,798 328,798.5 Q340,799 344,802" stroke-width="1.5" fill="none" />
<path d="M298,795.5 Q293.5,786 299,777.7 Q302,775.5 305,774.5 M308.9,774.4 Q314,772.5 319,771.6 M325.5,771.8 L333.5,769.5 M332.5,770.5 Q328.5,776 331.5,779.5 Q336,781.5 340,778.5" stroke-width="1.6" fill="none" />
<line x1="314.0" y1="818.0" x2="330.0" y2="817.0" stroke-width="1.5" />
<rect x="318.0" y="816.0" width="20.0" height="3.0" fill="#000" stroke="none" rx="0" />
<rect x="332.6" y="780.6" width="40.7" height="8.5" fill="#fff" stroke="#000" stroke-width="2.4" rx="4.2" />
<circle cx="369" cy="784.9" r="2.3" stroke-width="1.6" fill="none"/>
<circle cx="323.5" cy="864.1" r="26.8" stroke-width="2.4" fill="#fff"/>
<path d="M303.3,850 A24.6,24.6 0 0 0 339.3,883" stroke-width="2.0" fill="none" />
<path d="M324.6,849.2 L472.3,849.2 A13.8,13.8 0 0 1 472.3,876.8 L324.6,876.8 A13.8,13.8 0 0 1 324.6,849.2 Z" stroke-width="2.4" fill="#fff" />
<line x1="324.7" y1="862.4" x2="324.7" y2="892.0" stroke-width="1.5" />
</svg>
</body></html>
